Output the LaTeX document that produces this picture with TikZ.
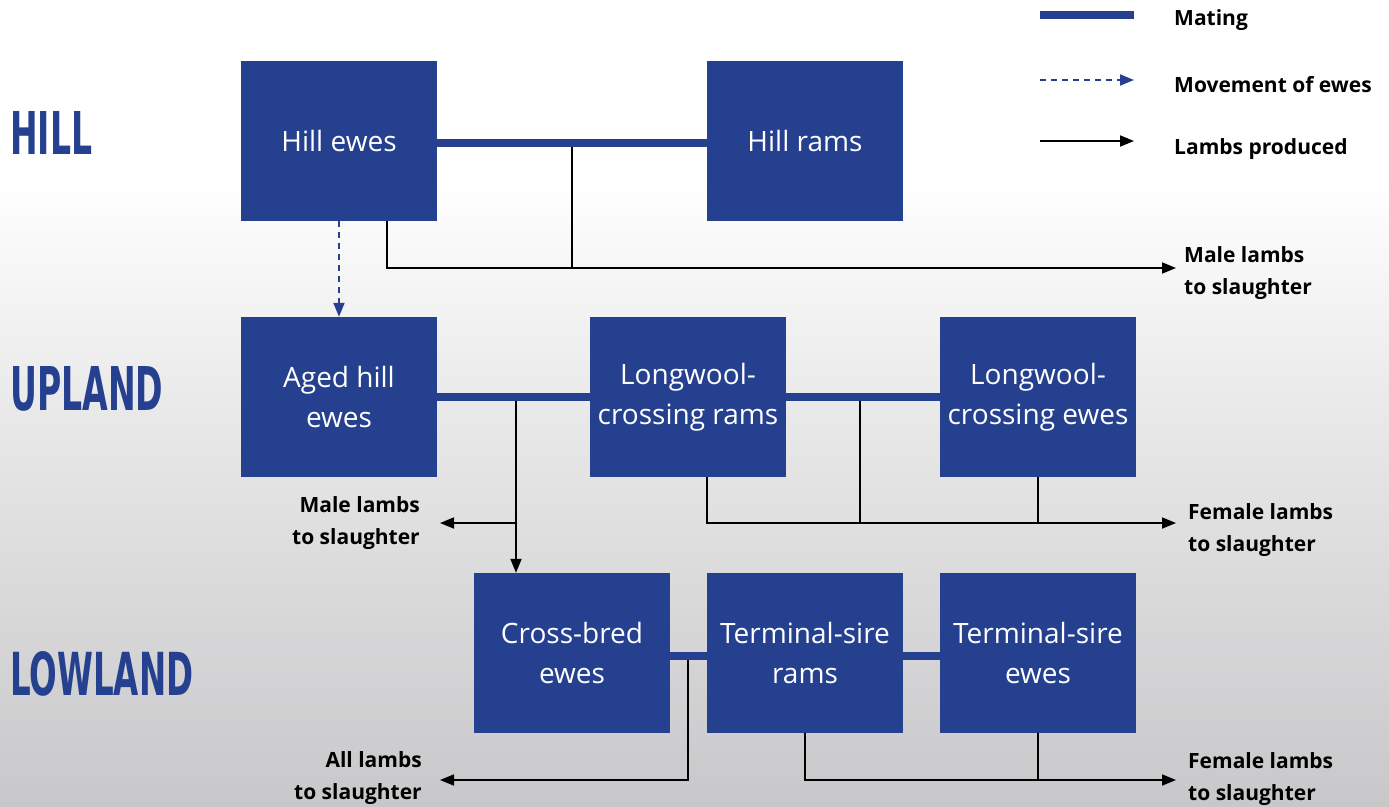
\documentclass[tikz,border=0pt]{standalone}
\usepackage{fontspec}
\setmainfont{Open Sans}
\newfontfamily\headfont{DejaVu Sans Condensed}
\usetikzlibrary{arrows.meta,calc}
\definecolor{dblue}{RGB}{37,64,143}
\definecolor{bggray}{RGB}{200,199,201}
\definecolor{bgmid}{RGB}{232,232,233}
\tikzset{
  box/.style={fill=dblue, minimum width=196pt, minimum height=160pt, inner sep=0pt,
    text=white, align=center, font=\fontsize{28}{40}\selectfont},
  mate/.style={draw=dblue, line width=8pt},
  lamb/.style={draw=black, line width=1.8pt, -{Triangle[length=14pt,width=11pt]}},
  lambline/.style={draw=black, line width=1.8pt},
  move/.style={draw=dblue, line width=1.8pt, dash pattern=on 6pt off 5pt, -{Triangle[length=14pt,width=11pt]}},
  lab/.style={font=\bfseries\fontsize{21}{32}\selectfont, inner sep=0pt},
  head/.style={text=dblue, inner sep=0pt, anchor=south west},
}
\begin{document}
\begin{tikzpicture}[x=1pt,y=-1pt]
\useasboundingbox (0,0) rectangle (1389,806);
\fill[white] (0,0) rectangle (1389,806);
\shade[top color=white, bottom color=bgmid] (0,180) rectangle (1389,420);
\shade[top color=bgmid, bottom color=bggray] (0,419.5) rectangle (1389,806);

% headings
\node[head] (hhill) at (10,155) {\resizebox{82pt}{43pt}{\headfont\bfseries HILL}};
\node[head] (hup) at (10,412) {\resizebox{153pt}{44pt}{\headfont\bfseries UPLAND}};
\node[head] (hlow) at (10,697) {\resizebox{183pt}{44pt}{\headfont\bfseries LOWLAND}};

% boxes
\node[box] (he) at (339,141) {Hill ewes};
\node[box] (hr) at (805,141) {Hill rams};
\node[box] (ahe) at (339,397) {Aged hill\\ewes};
\node[box] (lr) at (688,397) {Longwool-\\crossing rams};
\node[box] (le) at (1038,397) {Longwool-\\crossing ewes};
\node[box] (cbe) at (572,653) {Cross-bred\\ewes};
\node[box] (tr) at (805,653) {Terminal-sire\\rams};
\node[box] (te) at (1038,653) {Terminal-sire\\ewes};

% mating lines
\draw[mate] (he.east |- 0,143) -- (hr.west |- 0,143);
\draw[mate] (ahe.east |- 0,397) -- (lr.west |- 0,397);
\draw[mate] (lr.east |- 0,397) -- (le.west |- 0,397);
\draw[mate] (cbe.east |- 0,656) -- (tr.west |- 0,656);
\draw[mate] (tr.east |- 0,656) -- (te.west |- 0,656);

% labels
\node[lab, anchor=west, align=left] (l1) at (1184,273) {Male lambs\\to slaughter};
\node[lab, anchor=east, align=right] (l2) at (420,523) {Male lambs\\to slaughter};
\node[lab, anchor=west, align=left] (l3) at (1188,530) {Female lambs\\to slaughter};
\node[lab, anchor=east, align=right] (l4) at (422,778) {All lambs\\to slaughter};
\node[lab, anchor=west, align=left] (l5) at (1188,779) {Female lambs\\to slaughter};

% hill lambs
\coordinate (h1) at (387,268);
\coordinate (h2) at (572,268);
\coordinate (hend) at (1176,268);
\draw[lambline] (572,147) -- (h2);
\draw[lamb] (he.south -| h1) -- (h1) -- (hend);

% movement of ewes
\draw[move] (he.south) -- (ahe.north);

% upland left
\coordinate (u1) at (516,523);
\coordinate (u1e) at (440,523);
\draw[lamb] (516,401) -- (cbe.north -| u1);
\draw[lamb] (u1) -- (u1e);

% upland right
\coordinate (u2) at (707,523);
\coordinate (u3) at (860,523);
\coordinate (u4) at (1038,523);
\coordinate (u2e) at (1176,523);
\draw[lambline] (860,401) -- (u3);
\draw[lambline] (le.south) -- (u4);
\draw[lamb] (lr.south -| u2) -- (u2) -- (u2e);

% lowland left
\coordinate (w1) at (688,780);
\coordinate (w1e) at (440,780);
\draw[lamb] (688,660) -- (w1) -- (w1e);

% lowland right
\coordinate (w2) at (805,780);
\coordinate (w3) at (1038,780);
\coordinate (w2e) at (1176,780);
\draw[lambline] (te.south) -- (w3);
\draw[lamb] (tr.south) -- (w2) -- (w2e);

% legend
\node[lab, anchor=west] (k1) at (1174,20) {Mating};
\node[lab, anchor=west] (k2) at (1174,85) {Movement of ewes};
\node[lab, anchor=west] (k3) at (1174,149) {Lambs produced};
\coordinate (k1a) at (1040,15);
\coordinate (k1b) at (1134,15);
\coordinate (k2a) at (1040,80);
\coordinate (k2b) at (1134,80);
\coordinate (k3a) at (1040,141);
\coordinate (k3b) at (1134,141);
\draw[mate] (k1a) -- (k1b);
\draw[move] (k2a) -- (k2b);
\draw[lamb] (k3a) -- (k3b);
\end{tikzpicture}
\end{document}
